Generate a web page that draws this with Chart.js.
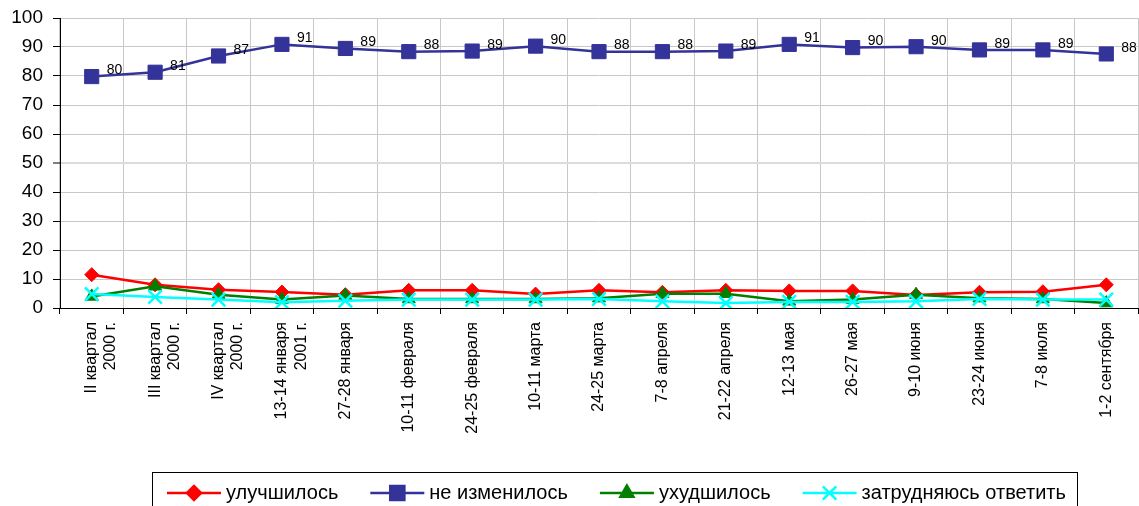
<!DOCTYPE html>
<html>
<head>
<meta charset="utf-8">
<script src="https://cdn.jsdelivr.net/npm/chart.js@4.4.1/dist/chart.umd.min.js"></script>
<style>
  html, body { margin: 0; padding: 0; background: #fff; overflow: hidden; }
  #wrap { width: 1139px; height: 506px; position: relative; }
  #chart { display: block; }
</style>
</head>
<body>
<div id="wrap"><canvas id="chart"></canvas></div>
<script>
// categories (survey dates)
const categories = [
  ['II квартал', '2000 г.'], ['III квартал', '2000 г.'], ['IV квартал', '2000 г.'],
  ['13-14 января', '2001 г.'], '27-28 января', '10-11 февраля', '24-25 февраля',
  '10-11 марта', '24-25 марта', '7-8 апреля', '21-22 апреля', '12-13 мая',
  '26-27 мая', '9-10 июня', '23-24 июня', '7-8 июля', '1-2 сентября'
];

// series values
const improved  = [11.5, 8.0, 6.3, 5.5, 4.6, 6.1, 6.1, 4.8, 6.1, 5.4, 6.1, 5.9, 5.9, 4.5, 5.4, 5.6, 8.0];
const unchanged = [79.8, 81.3, 86.9, 90.9, 89.5, 88.4, 88.6, 90.3, 88.4, 88.4, 88.6, 90.9, 89.8, 90.1, 89.0, 89.0, 87.6];
const unchangedLabels = [80, 81, 87, 91, 89, 88, 89, 90, 88, 88, 89, 91, 90, 90, 89, 89, 88];
const worse     = [4.0, 7.5, 4.6, 2.9, 4.3, 3.1, 3.1, 3.1, 3.4, 4.9, 4.9, 2.3, 2.9, 4.6, 3.4, 3.1, 1.7];
const hardToSay = [4.8, 3.8, 2.9, 2.0, 2.5, 2.9, 2.9, 2.9, 3.1, 2.3, 1.7, 2.1, 2.1, 2.3, 3.1, 2.9, 2.9];

const seriesNames = ['улучшилось', 'не изменилось', 'ухудшилось', 'затрудняюсь ответить'];
const yTicks = [0, 10, 20, 30, 40, 50, 60, 70, 80, 90, 100];

const FONT = '"Liberation Sans", Arial, sans-serif';

// value labels next to the "не изменилось" points
const valueLabels = {
  id: 'valueLabels',
  afterDatasetsDraw(chart) {
    const meta = chart.getDatasetMeta(1);
    const ctx = chart.ctx;
    ctx.save();
    ctx.font = '14px ' + FONT;
    ctx.fillStyle = '#000';
    ctx.textAlign = 'left';
    ctx.textBaseline = 'middle';
    meta.data.forEach(function (pt, i) {
      ctx.fillText(String(unchangedLabels[i]), pt.x + 15, pt.y - 6);
    });
    ctx.restore();
  }
};

// boxed legend at the bottom, like the original
const boxLegend = {
  id: 'boxLegend',
  afterDraw(chart) {
    const ctx = chart.ctx;
    const left = 152, top = 472, right = 1077;
    ctx.save();
    ctx.strokeStyle = '#000';
    ctx.lineWidth = 1;
    ctx.strokeRect(left + 0.5, top + 0.5, right - left, 60);

    ctx.font = '20px ' + FONT;
    ctx.textBaseline = 'middle';
    ctx.textAlign = 'left';
    let x = 167;
    const cy = 493;
    chart.data.datasets.forEach(function (ds) {
      ctx.strokeStyle = ds.borderColor;
      ctx.lineWidth = 2.5;
      ctx.beginPath();
      ctx.moveTo(x, cy);
      ctx.lineTo(x + 54, cy);
      ctx.stroke();
      ctx.fillStyle = ds.pointBackgroundColor;
      ctx.strokeStyle = ds.pointBorderColor;
      Chart.helpers.drawPoint(ctx, {
        pointStyle: ds.pointStyle,
        radius: ds.pointRadius,
        rotation: 0,
        borderWidth: ds.pointBorderWidth
      }, x + 27, cy);
      ctx.fillStyle = '#000';
      ctx.fillText(ds.label, x + 59, cy);
      x += 59 + ctx.measureText(ds.label).width + 32;
    });
    ctx.restore();
  }
};

new Chart(document.getElementById('chart'), {
  type: 'line',
  data: {
    labels: categories,
    datasets: [
      {
        label: seriesNames[0], data: improved, order: 3,
        borderColor: '#ff0000', borderWidth: 2.5,
        pointStyle: 'rectRot', pointRadius: 7,
        pointBackgroundColor: '#ff0000', pointBorderColor: '#ff0000', pointBorderWidth: 1
      },
      {
        label: seriesNames[1], data: unchanged, order: 2,
        borderColor: '#333399', borderWidth: 2.5,
        pointStyle: 'rect', pointRadius: 10,
        pointBackgroundColor: '#333399', pointBorderColor: '#333399', pointBorderWidth: 1
      },
      {
        label: seriesNames[2], data: worse, order: 1,
        borderColor: '#008000', borderWidth: 2.5,
        pointStyle: 'triangle', pointRadius: 7.5,
        pointBackgroundColor: '#008000', pointBorderColor: '#008000', pointBorderWidth: 1
      },
      {
        label: seriesNames[3], data: hardToSay, order: 0,
        borderColor: '#00ffff', borderWidth: 2.5,
        pointStyle: 'crossRot', pointRadius: 9.5,
        pointBackgroundColor: '#00ffff', pointBorderColor: '#00ffff', pointBorderWidth: 2.5
      }
    ]
  },
  options: {
    responsive: true,
    maintainAspectRatio: false,
    animation: false,
    layout: { autoPadding: false, padding: { top: 18, right: 1, left: 0, bottom: 0 } },
    plugins: {
      legend: { display: false },
      tooltip: { enabled: false }
    },
    scales: {
      x: {
        offset: true,
        afterFit(scale) {
          scale.height = 198;
          scale.paddingLeft = 0;
          scale.paddingRight = 0;
        },
        grid: {
          offset: true,
          color: '#c8c8c8',
          tickColor: '#000',
          tickLength: 6
        },
        border: { color: '#000', width: 1 },
        ticks: {
          autoSkip: false,
          minRotation: 90,
          maxRotation: 90,
          padding: 8,
          color: '#000',
          font: { family: FONT, size: 16 }
        }
      },
      y: {
        min: 0,
        max: 100,
        afterFit(scale) {
          scale.width = 60;
          scale.paddingTop = 0;
          scale.paddingBottom = 0;
        },
        afterBuildTicks(scale) { scale.ticks = yTicks.map(v => ({ value: v })); },
        grid: {
          color: ctx => ctx.tick && ctx.tick.value === 50 ? '#dcdcdc' : '#c8c8c8',
          lineWidth: ctx => ctx.tick && ctx.tick.value === 50 ? 2 : 1,
          tickColor: '#000',
          tickWidth: 1,
          tickLength: 7
        },
        border: { color: '#000', width: 1 },
        ticks: {
          padding: 10,
          color: '#000',
          font: { family: FONT, size: 19 }
        }
      }
    }
  },
  plugins: [valueLabels, boxLegend]
});
</script>
</body>
</html>
